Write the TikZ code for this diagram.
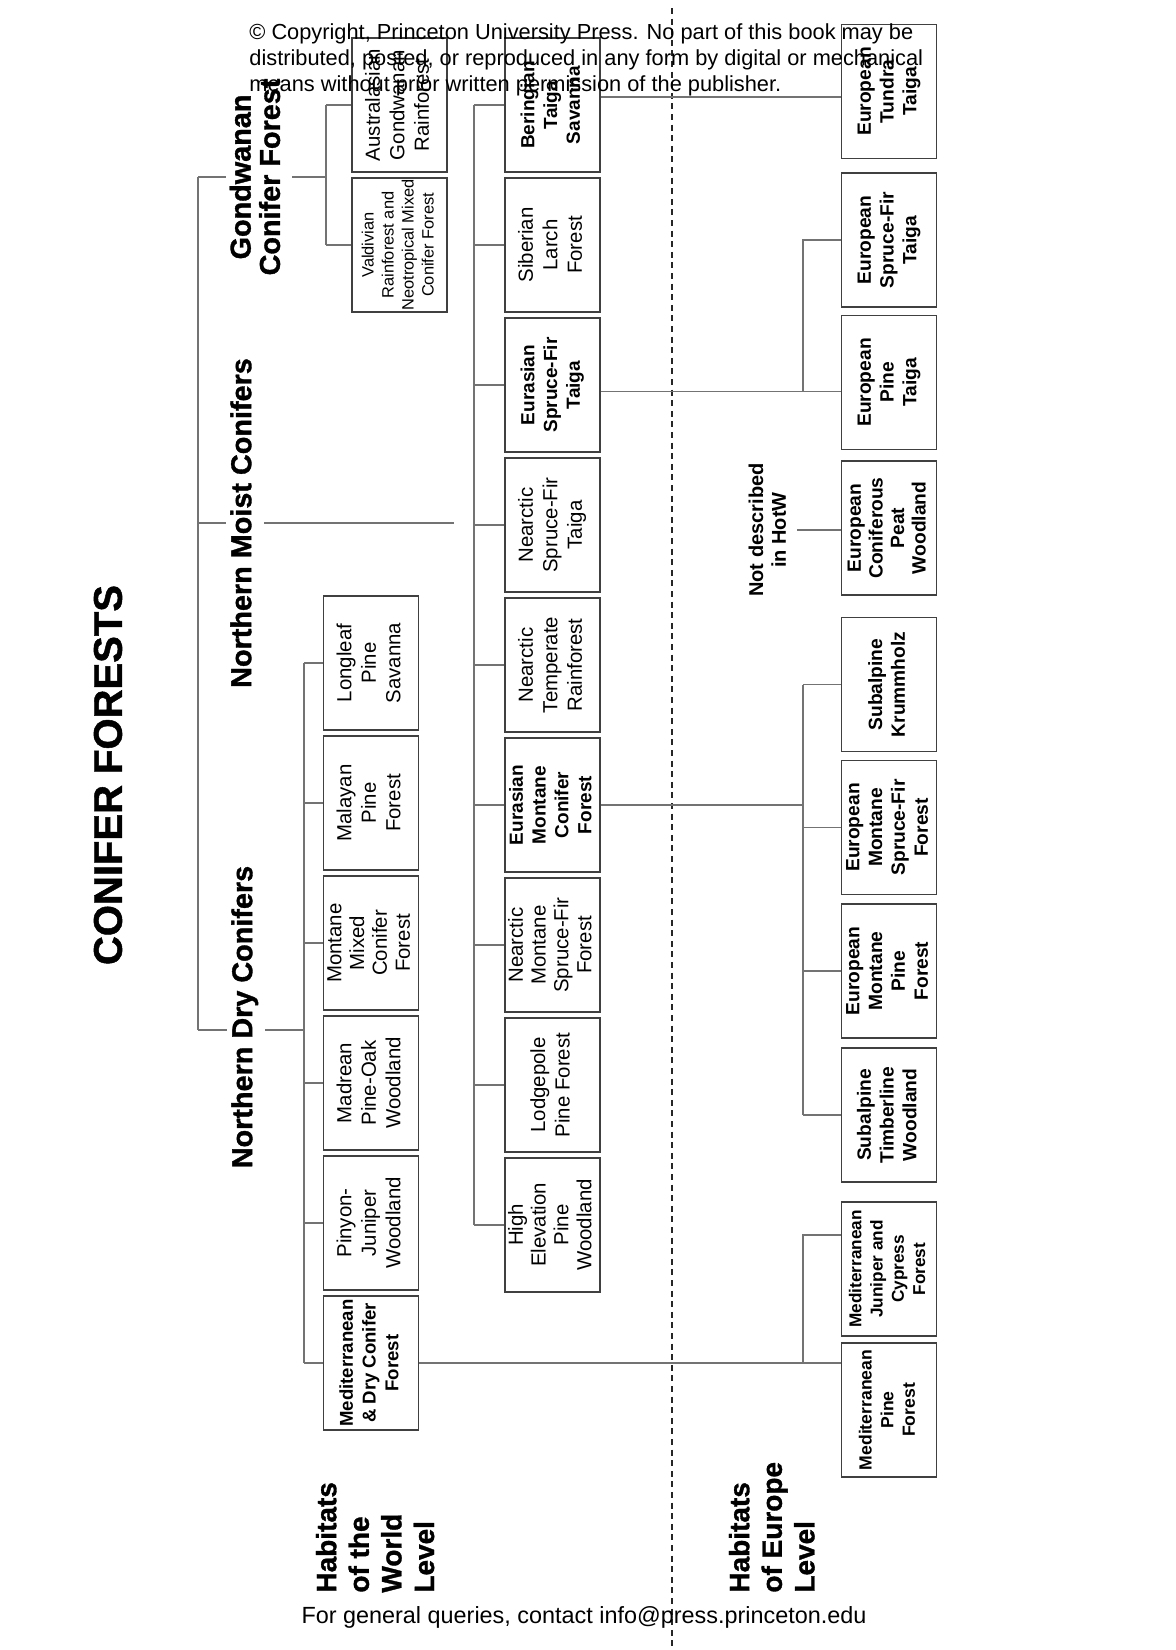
\documentclass[tikz,border=0pt]{standalone}
\usepackage{fontspec}
\setmainfont{Liberation Sans}
\newfontfamily\heavyfont[FakeBold=1.2]{Liberation Sans Bold}
\usepackage{graphicx}
\usetikzlibrary{positioning, calc, backgrounds}

\newcommand{\vlines}[1]{\rotatebox{90}{\begin{tabular}{@{}c@{}}#1\end{tabular}}}
\newcommand{\vleft}[1]{\rotatebox{90}{\begin{tabular}{@{}l@{}}#1\end{tabular}}}

\begin{document}
\begin{tikzpicture}[
    x=0.5pt, y=-0.5pt,
    node distance=2.2pt,
    habbox/.style={rectangle, draw=black!75, line width=0.8pt, fill=white, minimum width=47.5pt, minimum height=67pt, inner sep=0pt, font=\fontsize{10.2}{12.2}\selectfont},
    fourline/.style={font=\fontsize{10.2}{11.4}\selectfont},
    habbold/.style={habbox, font=\fontsize{9.5}{11.4}\selectfont\bfseries},
    eubox/.style={habbox, font=\fontsize{9.6}{11.4}\selectfont\bfseries},
    grouplbl/.style={fill=white, inner sep=2pt, font=\fontsize{14.4}{14}\selectfont\heavyfont},
    levellbl/.style={inner sep=0pt, anchor=south west, font=\fontsize{14}{16.3}\selectfont\heavyfont},
    line/.style={draw=black!55, line width=0.8pt},
    divider/.style={draw=black!85, line width=1.1pt, dash pattern=on 3pt off 2.3pt}
]
\useasboundingbox (0,0) rectangle (1176,1650);

% Title and level labels
\node[font=\fontsize{20}{24}\selectfont\heavyfont] (title) at (108,775) {\rotatebox{90}{CONIFER FORESTS}};
\node[levellbl] (worldlvl) at (313,1593) {\vleft{Habitats\\of the\\World\\Level}};
\node[levellbl] (eurolvl) at (726,1593) {\vleft{Habitats\\of Europe\\Level}};

% Group labels
\node[grouplbl] (gond) at (259,177) {\vlines{Gondwanan\\Conifer Forest}};
\node[grouplbl] (moist) at (245,523) {\vlines{Northern Moist Conifers}};
\node[grouplbl] (dry) at (246,1017) {\vlines{Northern Dry Conifers}};

% Gondwanan habitats
\node[habbox] (austr) at (399.5,105) {\vlines{Australasian\\Gondwanan\\Rainforest}};
\node[habbox, font=\fontsize{8.2}{10}\selectfont, below=of austr] (vald) {\vlines{Valdivian\\Rainforest and\\Neotropical Mixed\\Conifer Forest}};

% Northern moist habitats
\node[habbold] (bering) at (552.5,105) {\vlines{Beringian\\Taiga\\Savanna}};
\node[habbox, below=of bering] (siblarch) {\vlines{Siberian\\Larch\\Forest}};
\node[habbold, below=of siblarch] (eataiga) {\vlines{Eurasian\\Spruce-Fir\\Taiga}};
\node[habbox, below=of eataiga] (nataiga) {\vlines{Nearctic\\Spruce-Fir\\Taiga}};
\node[habbox, below=of nataiga] (natemp) {\vlines{Nearctic\\Temperate\\Rainforest}};
\node[habbold, below=of natemp] (eamont) {\vlines{Eurasian\\Montane\\Conifer\\Forest}};
\node[habbox, fourline, below=of eamont] (namont) {\vlines{Nearctic\\Montane\\Spruce-Fir\\Forest}};
\node[habbox, below=of namont] (lodge) {\vlines{Lodgepole\\Pine Forest}};
\node[habbox, fourline, below=of lodge] (highelev) {\vlines{High\\Elevation\\Pine\\Woodland}};

% Northern dry habitats
\node[habbox] (longleaf) at (371,663) {\vlines{Longleaf\\Pine\\Savanna}};
\node[habbox, below=of longleaf] (malayan) {\vlines{Malayan\\Pine\\Forest}};
\node[habbox, fourline, below=of malayan] (montmix) {\vlines{Montane\\Mixed\\Conifer\\Forest}};
\node[habbox, below=of montmix] (madrean) {\vlines{Madrean\\Pine-Oak\\Woodland}};
\node[habbox, below=of madrean] (pinyon) {\vlines{Pinyon-\\Juniper\\Woodland}};
\node[habbox, font=\fontsize{9.3}{11.4}\selectfont\bfseries, below=of pinyon] (meddry) {\vlines{Mediterranean\\\& Dry Conifer\\Forest}};

% Europe level habitats
\node[eubox] (tundra) at (889,91.5) {\vlines{European\\Tundra\\Taiga}};
\node[eubox] (sftaiga) at (889,240) {\vlines{European\\Spruce-Fir\\Taiga}};
\node[eubox] (pinetaiga) at (889,382.5) {\vlines{European\\Pine\\Taiga}};
\node[eubox, font=\fontsize{9.6}{10.8}\selectfont\bfseries] (peat) at (889,528) {\vlines{European\\Coniferous\\Peat\\Woodland}};
\node[eubox] (krumm) at (889,684.5) {\vlines{Subalpine\\Krummholz}};
\node[eubox] (eumontsf) at (889,827.5) {\vlines{European\\Montane\\Spruce-Fir\\Forest}};
\node[eubox] (eumontpine) at (889,971) {\vlines{European\\Montane\\Pine\\Forest}};
\node[eubox] (timber) at (889,1115) {\vlines{Subalpine\\Timberline\\Woodland}};
\node[eubox, font=\fontsize{8.6}{10.6}\selectfont\bfseries] (juniper) at (889,1269) {\vlines{Mediterranean\\Juniper and\\Cypress\\Forest}};
\node[eubox, font=\fontsize{8.8}{10.8}\selectfont\bfseries] (medpine) at (889,1410) {\vlines{Mediterranean\\Pine\\Forest}};

\node[font=\fontsize{10}{11.4}\selectfont\bfseries, inner sep=2pt] (notdesc) at (770,530) {\vlines{Not described\\in HotW}};

% Spine points
\coordinate (trunkTop) at (198,177);
\coordinate (trunkBot) at (198,1030);
\coordinate (gondSpine) at (326,177);
\coordinate (moistEnd) at (454,523);
\coordinate (moistSpine) at (474,523);
\coordinate (drySpine) at (304,1030);
\coordinate (euSpine) at (803,0);

% Connections
\begin{scope}[on background layer]
\draw[divider] (672,8) -- (672,1646);

\draw[line] (trunkTop) -- (trunkBot);
\draw[line] (trunkTop) -- (gondSpine);
\draw[line] (trunkTop |- moistEnd) -- (moistEnd);
\draw[line] (trunkBot) -- (drySpine);

\draw[line] (gondSpine |- austr.west) -- (gondSpine |- vald.west);
\foreach \n in {austr, vald}
    \draw[line] (gondSpine |- \n.west) -- (\n.west);

\draw[line] (moistSpine |- bering.west) -- (moistSpine |- highelev.west);
\foreach \n in {bering, siblarch, eataiga, nataiga, natemp, eamont, namont, lodge, highelev}
    \draw[line] (moistSpine |- \n.west) -- (\n.west);

\draw[line] (drySpine |- longleaf.west) -- (drySpine |- meddry.west);
\foreach \n in {longleaf, malayan, montmix, madrean, pinyon, meddry}
    \draw[line] (drySpine |- \n.west) -- (\n.west);

% World to Europe
\draw[line] ([yshift=4pt]bering.east) -- ([yshift=4pt]bering.east -| tundra.west);
\draw[line] ([yshift=-3.25pt]eataiga.east) -- ([yshift=-3.25pt]eataiga.east -| pinetaiga.west);
\draw[line] ([yshift=-3.25pt]eataiga.east -| euSpine) |- (sftaiga.west);
\draw[line] (notdesc.east) -- (notdesc.east -| peat.west);
\draw[line] (eamont.east) -- (eamont.east -| euSpine);
\draw[line] (euSpine |- krumm.west) -- (euSpine |- timber.west);
\foreach \n in {krumm, eumontsf, eumontpine, timber}
    \draw[line] (euSpine |- \n.west) -- (\n.west);
\draw[line] (meddry.east) -- (meddry.east -| medpine.west);
\draw[line] (meddry.east -| euSpine) |- ($(juniper.north west)!0.25!(juniper.south west)$);
\end{scope}

% Notices
\node[anchor=north west, align=left, inner sep=0pt, font=\fontsize{10.9}{13}\selectfont] (copyright) at (249,23) {\textcopyright{} Copyright, Princeton University Press. No part of this book may be\\distributed, posted, or reproduced in any form by digital or mechanical\\means without prior written permission of the publisher.};
\node[inner sep=0pt, font=\fontsize{11.7}{13}\selectfont] (queries) at (584,1617) {For general queries, contact info@press.princeton.edu};

\end{tikzpicture}
\end{document}
